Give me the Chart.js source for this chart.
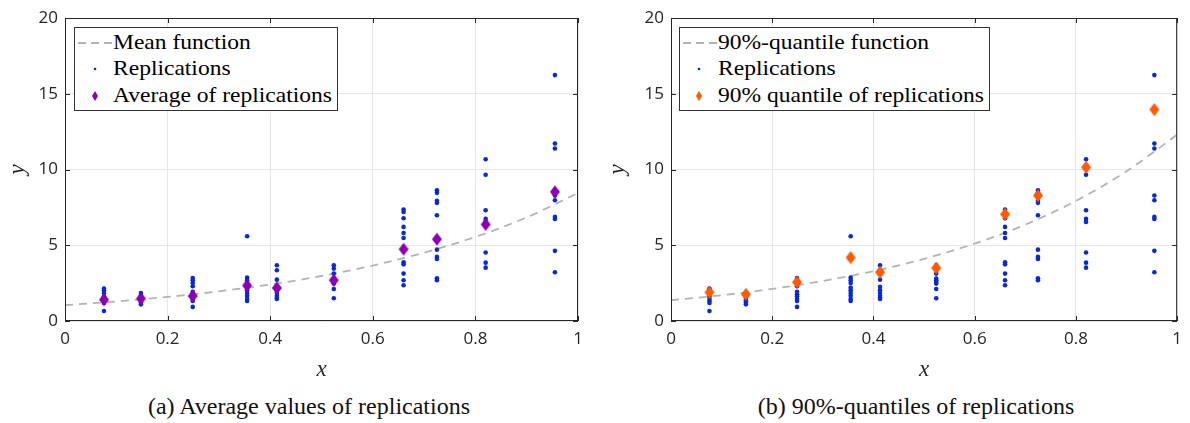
<!DOCTYPE html>
<html>
<head>
<meta charset="utf-8">
<script src="https://cdn.jsdelivr.net/npm/chart.js@4.4.1/dist/chart.umd.min.js"></script>
<style>
  body { margin: 0; background: #fff; }
  #wrap { position: relative; width: 1190px; height: 423px; overflow: hidden; }
  canvas { position: absolute; top: 0; }
  .legend { position: absolute; top: 27px; height: 82px; border: 1px solid #333; background: #fff; color: #000; }
  .legend .row { position: absolute; white-space: nowrap; line-height: 24px;
                 font-family: 'Liberation Serif'; font-size: 21px; transform: scaleX(1.12); transform-origin: 0 0; }
  .legend svg { position: absolute; }
  .caption { position: absolute; top: 392px; width: 600px; text-align: center; line-height: 28px;
             font-family: 'Liberation Serif'; font-size: 24px; color: #111; }
</style>
</head>
<body>
<div id="wrap">
  <canvas id="chartA" width="595" height="385" style="left:0"></canvas>
  <canvas id="chartB" width="595" height="385" style="left:595px"></canvas>

  <div class="legend" style="left:74px;width:262px">
    <svg style="left:3px;top:13px" width="34" height="4"><line x1="0" y1="2" x2="34" y2="2" stroke="#b3b3b3" stroke-width="1.8" stroke-dasharray="8,5"/></svg>
    <div class="row" style="left:38px;top:2px">Mean function</div>
    <svg style="left:17px;top:38px" width="6" height="6"><circle cx="3" cy="3" r="1.3" fill="#0a28d8"/></svg>
    <div class="row" style="left:38px;top:28px">Replications</div>
    <svg style="left:16px;top:62px" width="8" height="12"><polygon points="4,1 7,6 4,11 1,6" fill="#8c00b4"/></svg>
    <div class="row" style="left:38px;top:55px">Average of replications</div>
  </div>

  <div class="legend" style="left:679px;width:309px">
    <svg style="left:3px;top:13px" width="34" height="4"><line x1="0" y1="2" x2="34" y2="2" stroke="#b3b3b3" stroke-width="1.8" stroke-dasharray="8,5"/></svg>
    <div class="row" style="left:38px;top:2px">90%-quantile function</div>
    <svg style="left:16px;top:38px" width="6" height="6"><circle cx="3" cy="3" r="1.3" fill="#0a28d8"/></svg>
    <div class="row" style="left:38px;top:28px">Replications</div>
    <svg style="left:15px;top:62px" width="8" height="12"><polygon points="4,1 7,6 4,11 1,6" fill="#ff5a00"/></svg>
    <div class="row" style="left:38px;top:55px">90% quantile of replications</div>
  </div>

  <div class="caption" style="left:9px">(a) Average values of replications</div>
  <div class="caption" style="left:616px">(b) 90%-quantiles of replications</div>
</div>

<script>
// design points and replications (same in both panels)
const xLevels = [0.076, 0.148, 0.249, 0.355, 0.413, 0.524, 0.660, 0.725, 0.820, 0.955];
const replications = [
  [2.14, 2.03, 1.85, 1.63, 1.45, 1.32, 1.19, 0.66],
  [1.85, 1.67, 1.54, 1.37, 1.23, 1.10],
  [2.84, 2.69, 2.51, 2.29, 1.92, 1.76, 1.63, 1.45, 1.32, 0.93],
  [5.59, 2.86, 2.69, 2.51, 2.20, 2.03, 1.85, 1.67, 1.45, 1.32],
  [3.68, 3.35, 2.73, 2.25, 2.03, 1.85, 1.67, 1.54, 1.45],
  [3.68, 3.46, 3.13, 2.80, 2.69, 2.58, 2.47, 2.11, 1.50],
  [7.36, 7.20, 6.78, 6.21, 5.81, 5.48, 3.88, 3.74, 3.13, 2.69, 2.36],
  [8.63, 8.46, 7.93, 7.80, 6.98, 4.71, 4.23, 4.10, 2.82, 2.69],
  [10.68, 9.65, 7.31, 6.74, 6.54, 4.52, 3.85, 3.52],
  [16.23, 11.72, 11.39, 8.28, 7.97, 6.87, 6.74, 4.63, 3.22]
];
const averages  = [1.41, 1.48, 1.65, 2.34, 2.18, 2.69, 4.74, 5.40, 6.37, 8.53];
const quantiles = [1.89, 1.76, 2.56, 4.19, 3.22, 3.50, 7.05, 8.28, 10.15, 13.96];

// dashed curves, read at x = 0, 0.1, ..., 1
const curveX        = [0, 0.1, 0.2, 0.3, 0.4, 0.5, 0.6, 0.7, 0.8, 0.9, 1.0];
const meanCurve     = [1.05, 1.29, 1.59, 1.96, 2.41, 2.97, 3.66, 4.51, 5.55, 6.84, 8.45];
const quantileCurve = [1.37, 1.70, 2.12, 2.64, 3.29, 4.10, 5.11, 6.36, 7.93, 9.88, 12.3];

const xTickLabels = ['0', '0.2', '0.4', '0.6', '0.8', '1'];
const yTickLabels = ['0', '5', '10', '15', '20'];

const repPoints = [];
xLevels.forEach((x, i) => replications[i].forEach(y => repPoints.push({ x, y })));

function diamond(color) {
  const c = document.createElement('canvas');
  c.width = 12; c.height = 14;
  const g = c.getContext('2d');
  g.fillStyle = color;
  g.beginPath();
  g.moveTo(6, 0.5); g.lineTo(11, 7); g.lineTo(6, 13.5); g.lineTo(1, 7);
  g.closePath(); g.fill();
  return c;
}

// MATLAB style box with inward ticks
const boxPlugin = {
  id: 'box',
  afterDatasetsDraw(chart) {
    const { ctx, chartArea: a, scales } = chart;
    ctx.save();
    ctx.strokeStyle = '#262626';
    ctx.lineWidth = 1;
    ctx.strokeRect(a.left + 0.5, a.top + 0.5, a.right - a.left - 1, a.bottom - a.top - 1);
    ctx.beginPath();
    scales.x.ticks.forEach(t => {
      const px = Math.round(scales.x.getPixelForValue(t.value)) + 0.5;
      ctx.moveTo(px, a.bottom); ctx.lineTo(px, a.bottom - 5);
      ctx.moveTo(px, a.top); ctx.lineTo(px, a.top + 5);
    });
    scales.y.ticks.forEach(t => {
      const py = Math.round(scales.y.getPixelForValue(t.value)) + 0.5;
      ctx.moveTo(a.left, py); ctx.lineTo(a.left + 5, py);
      ctx.moveTo(a.right, py); ctx.lineTo(a.right - 5, py);
    });
    ctx.stroke();
    ctx.restore();
  }
};

const tickFont = { family: 'Open Sans', size: 17 };
const titleFont = { family: "'Liberation Serif'", size: 23, style: 'italic' };

function makeChart(id, curve, marks, markColor, padLeft, yWidth, padRight) {
  return new Chart(document.getElementById(id), {
    type: 'scatter',
    data: {
      datasets: [
        {
          data: curveX.map((x, i) => ({ x, y: curve[i] })),
          showLine: true, pointRadius: 0, borderColor: '#b3b3b3', borderWidth: 1.8,
          borderDash: [8, 6], cubicInterpolationMode: 'monotone', order: 3
        },
        {
          data: repPoints, pointRadius: 2.3, pointBorderWidth: 0,
          pointBackgroundColor: '#0a28d8', order: 2
        },
        {
          data: xLevels.map((x, i) => ({ x, y: marks[i] })),
          pointStyle: diamond(markColor), order: 1
        }
      ]
    },
    options: {
      responsive: false,
      animation: false,
      devicePixelRatio: 1,
      layout: { padding: { left: padLeft, right: padRight, top: 18, bottom: 0 } },
      plugins: { legend: { display: false }, tooltip: { enabled: false } },
      scales: {
        x: {
          type: 'linear', min: 0, max: 1,
          ticks: { stepSize: 0.2, padding: 8, color: '#262626', font: tickFont,
                   maxRotation: 0, autoSkip: false, callback: (v, i) => xTickLabels[i] },
          grid: { color: '#e6e6e6', drawTicks: false },
          border: { display: false },
          title: { display: true, text: 'x', font: titleFont, color: '#262626', padding: { top: 0, bottom: 1 } },
          afterFit: s => { s.height = 64; }
        },
        y: {
          type: 'linear', min: 0, max: 20,
          ticks: { stepSize: 5, padding: 7, color: '#262626', font: tickFont,
                   callback: (v, i) => yTickLabels[i] },
          grid: { color: '#e6e6e6', drawTicks: false },
          border: { display: false },
          title: { display: true, text: 'y', font: titleFont, color: '#262626', padding: { top: 4, bottom: 0 } },
          afterFit: s => { s.width = yWidth; }
        }
      }
    },
    plugins: [boxPlugin]
  });
}

makeChart('chartA', meanCurve, averages, '#8c00b4', 0, 65, 17);
makeChart('chartB', quantileCurve, quantiles, '#ff5a00', 5, 71, 8);
</script>
</body>
</html>
